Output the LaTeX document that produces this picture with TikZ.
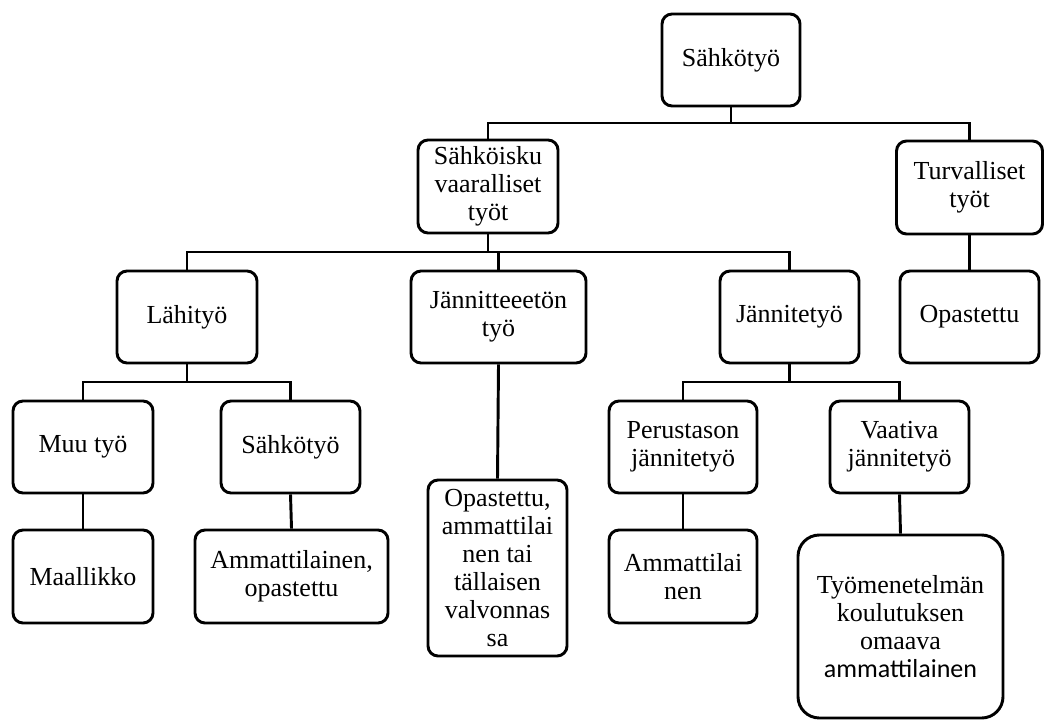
\documentclass[tikz,border=0pt]{standalone}
\usepackage{fontspec}
\setmainfont{Liberation Serif}
\newfontfamily\carlitofont{Carlito}
\begin{document}
\begin{tikzpicture}[x=0.75pt,y=-0.75pt,
  box/.style={draw=black, line width=2.2pt, rounded corners=7.5pt, align=center,
    inner sep=0pt, minimum height=69pt,
    font=\fontsize{19.5}{21}\selectfont},
  conn/.style={draw=black, line width=2.2pt}]
\useasboundingbox (0,0) rectangle (1044,720);
\node[box, minimum width=103.5pt] (top) at (731,60) {Sähkötyö};
\node[box, minimum width=105pt, minimum height=69.75pt] (sv) at (488,186.5) {Sähköisku\\vaaralliset\\työt};
\node[box, minimum width=109.5pt, minimum height=69.75pt] (tu) at (969.5,187.5) {Turvalliset\\työt};
\node[box, minimum width=105pt] (la) at (187,317) {Lähityö};
\node[box, minimum width=131.25pt] (jt) at (498.5,317) {Jännitteeetön\\työ};
\node[box, minimum width=104.25pt] (jn) at (789.5,317) {Jännitetyö};
\node[box, minimum width=104.25pt] (op) at (969.5,317) {Opastettu};
\node[box, minimum width=105pt] (mu) at (83,447) {Muu työ};
\node[box, minimum width=104.25pt] (sa) at (290.5,447) {Sähkötyö};
\node[box, minimum width=111pt] (pe) at (683,447) {Perustason\\jännitetyö};
\node[box, minimum width=104.25pt] (va) at (899.5,447) {Vaativa\\jännitetyö};
\node[box, minimum width=105pt, minimum height=69.75pt] (ma) at (83,576.5) {Maallikko};
\node[box, minimum width=144.75pt, minimum height=69.75pt] (am) at (291.5,576.5) {Ammattilainen,\\opastettu};
\node[box, minimum width=104.25pt, minimum height=132pt] (ot) at (497.5,568) {Opastettu,\\ammattilai\\nen tai\\tällaisen\\valvonnas\\sa};
\node[box, minimum width=111pt, minimum height=69.75pt] (an) at (683,576.5) {Ammattilai\\nen};
\node[box, rounded corners=16pt, minimum width=153.75pt, minimum height=137.25pt] (ty) at (900.5,626.5) {Työmenetelmän\\koulutuksen\\omaava\\{\carlitofont ammattilainen}};
% connectors
\coordinate (b1) at (731,123);
\coordinate (b2) at (488,252);
\coordinate (b3) at (187,382);
\coordinate (b4) at (789.5,382);
\draw[conn] (top.south) -- (b1);
\draw[conn] (b1) -| (sv.north);
\draw[conn] (b1) -| (tu.north);
\draw[conn] (sv.south) -- (b2);
\draw[conn] (b2) -| (la.north);
\draw[conn] (b2) -| (jt.north);
\draw[conn] (b2) -| (jn.north);
\draw[conn] (la.south) -- (b3);
\draw[conn] (b3) -| (mu.north);
\draw[conn] (b3) -| (sa.north);
\draw[conn] (jn.south) -- (b4);
\draw[conn] (b4) -| (pe.north);
\draw[conn] (b4) -| (va.north);
\draw[conn] (tu.south) -- (op.north);
\draw[conn] (mu.south) -- (ma.north);
\draw[conn] (sa.south) -- (am.north);
\draw[conn] (jt.south) -- (ot.north);
\draw[conn] (pe.south) -- (an.north);
\draw[conn] (va.south) -- (ty.north);
\end{tikzpicture}
\end{document}
